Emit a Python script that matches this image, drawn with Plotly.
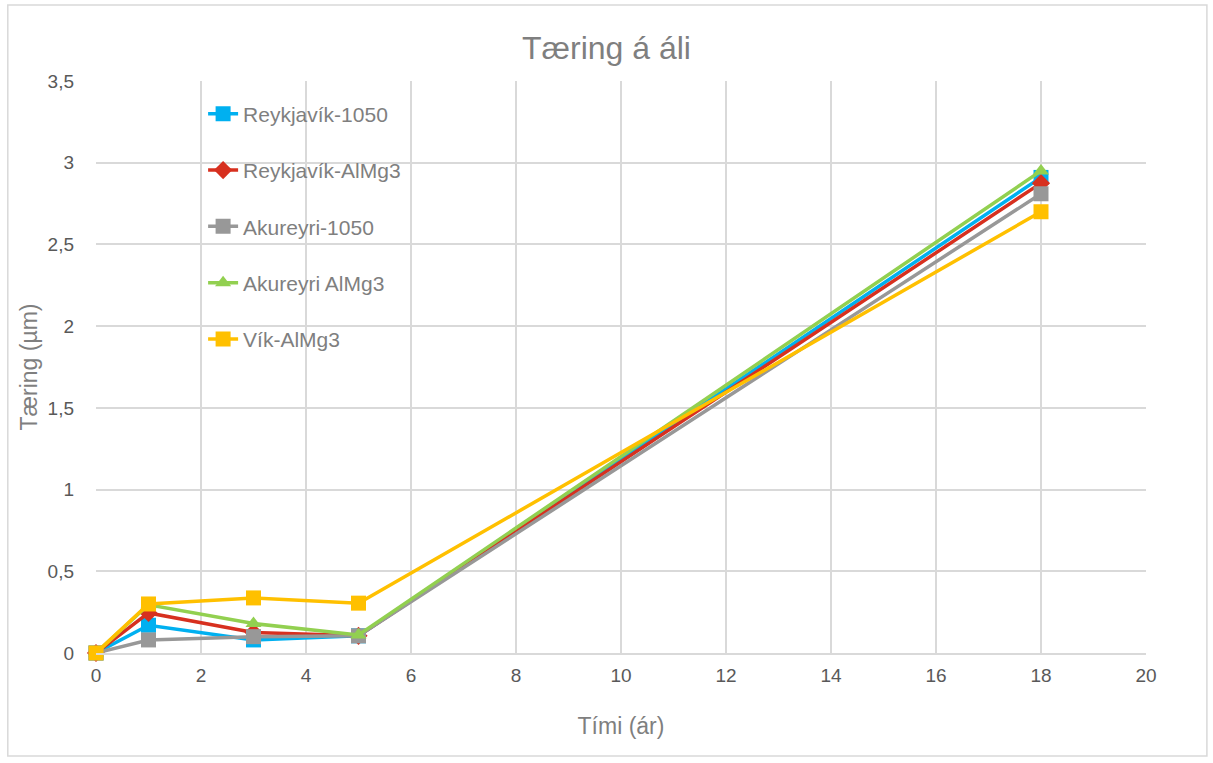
import plotly.graph_objects as go

years = [0, 1, 3, 5, 18]
reykjavik_1050 = [0, 0.17, 0.08, 0.105, 2.91]
reykjavik_almg3 = [0, 0.245, 0.125, 0.105, 2.875]
akureyri_1050 = [0, 0.08, 0.10, 0.105, 2.81]
akureyri_almg3 = [0, 0.295, 0.18, 0.11, 2.95]
vik_almg3 = [0, 0.30, 0.337, 0.305, 2.70]

series = [
    ("Reykjavík-1050", reykjavik_1050, "#00B0F0", "square"),
    ("Reykjavík-AlMg3", reykjavik_almg3, "#D7301F", "diamond"),
    ("Akureyri-1050", akureyri_1050, "#989898", "square"),
    ("Akureyri AlMg3", akureyri_almg3, "#92D050", "triangle-up"),
    ("Vík-AlMg3", vik_almg3, "#FFC000", "square"),
]

FONT = "Liberation Sans, Arial"
GREY = "#7F7F7F"
TICK = "#595959"

fig = go.Figure()
for i, (name, vals, color, sym) in enumerate(series):
    fig.add_trace(go.Scatter(
        x=years, y=vals, name=name, mode="lines+markers",
        line=dict(color=color, width=3.5),
        marker=dict(symbol=sym, size=15 if sym == "square" else 14, color=color),
        legendgroup=f"g{i}", cliponaxis=False,
    ))

fig.update_layout(
    width=1213, height=763,
    margin=dict(l=96, r=67, t=81, b=110),
    paper_bgcolor="white", plot_bgcolor="white",
    separators=", ",
    font=dict(family=FONT, color=GREY, size=17),
    title=dict(text="Tæring á áli", x=0.5, xanchor="center", y=0.937, yanchor="middle",
               font=dict(size=32, color=GREY, family=FONT)),
    legend=dict(x=0.102, y=0.978, xanchor="left", yanchor="top",
                font=dict(size=21, color=GREY, family=FONT),
                bgcolor="rgba(0,0,0,0)", traceorder="grouped", tracegroupgap=26),
    xaxis=dict(range=[0, 20], dtick=2, tick0=0, showgrid=True, gridcolor="#D9D9D9",
               gridwidth=1.5, showline=True, linecolor="#D9D9D9", linewidth=1.5,
               zeroline=False, ticks="", tickfont=dict(size=19, color=TICK),
               ticklabelstandoff=4,
               title=dict(text="Tími (ár)", font=dict(size=23, color=GREY), standoff=33)),
    yaxis=dict(range=[0, 3.5], dtick=0.5, tick0=0, showgrid=True, gridcolor="#D9D9D9",
               gridwidth=1.5, zeroline=False, showline=False, ticks="",
               tickformat=".1~f", ticklabelstandoff=21,
               tickfont=dict(size=19, color=TICK),
               title=dict(text="Tæring (µm)", font=dict(size=23, color=GREY), standoff=3)),
    shapes=[dict(type="rect", xref="paper", yref="paper", x0=-0.084, x1=1.058,
                 y0=-0.18, y1=1.133, line=dict(color="#D9D9D9", width=1.5),
                 fillcolor="rgba(0,0,0,0)", layer="below")],
)

fig.write_html("out.html")
